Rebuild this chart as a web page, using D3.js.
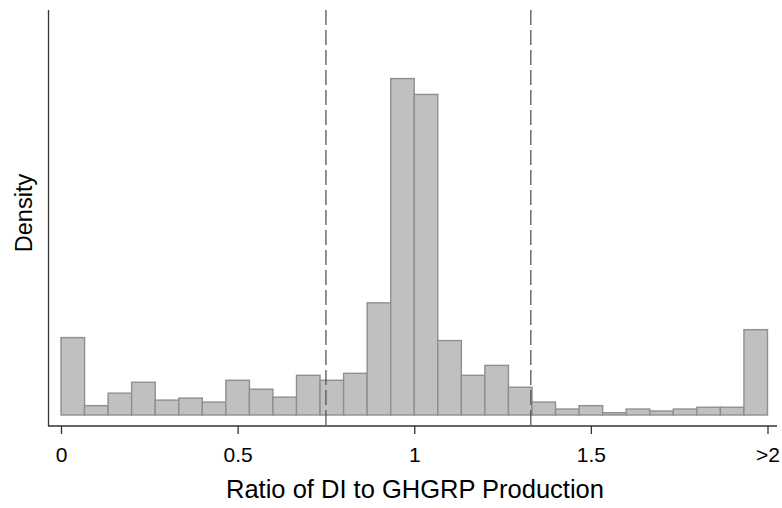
<!DOCTYPE html>
<html>
<head>
<meta charset="utf-8">
<script src="https://cdn.jsdelivr.net/npm/d3@7"></script>
<style>
  body { margin: 0; background: #fff; }
  svg { display: block; font-family: "Liberation Sans", Arial, sans-serif; }
</style>
</head>
<body>
<svg id="chart" width="782" height="508"></svg>
<script>
// histogram bins: 30 bins of width 1/15 from 0 to 2 (last bin = >2)
const binStarts = d3.range(30).map(i => i / 15);
const density = [
  0.78, 0.094, 0.22, 0.33, 0.15, 0.17, 0.13, 0.35, 0.26, 0.18,
  0.40, 0.35, 0.42, 1.13, 3.39, 3.23, 0.75, 0.40, 0.50, 0.28,
  0.13, 0.06, 0.094, 0.023, 0.06, 0.04, 0.06, 0.078, 0.078, 0.86
];
const tickValues = [0, 0.5, 1, 1.5, 2];
const tickLabels = ["0", "0.5", "1", "1.5", ">2"];
const refLines = [0.75, 1.33];

const width = 782, height = 508;
const svg = d3.select("#chart");

const x = d3.scaleLinear().domain([0, 2]).range([61, 767.5]);
const y = d3.scaleLinear().domain([0, 4.081]).range([415, 10]);
const binW = 1 / 15;

// bars
svg.append("g")
  .selectAll("rect")
  .data(binStarts)
  .join("rect")
  .attr("x", d => x(d))
  .attr("y", (d, i) => y(density[i]))
  .attr("width", d => x(d + binW) - x(d))
  .attr("height", (d, i) => y(0) - y(density[i]))
  .attr("fill", "#c0c0c0")
  .attr("stroke", "#8f8f8f")
  .attr("stroke-width", 1.4);

// dashed reference lines
svg.append("g")
  .selectAll("line")
  .data(refLines)
  .join("line")
  .attr("x1", d => x(d)).attr("x2", d => x(d))
  .attr("y1", 10).attr("y2", 426)
  .attr("stroke", "#555")
  .attr("stroke-width", 1.3)
  .attr("stroke-dasharray", "15,5");

// y axis line (no ticks)
svg.append("line")
  .attr("x1", 48.5).attr("x2", 48.5)
  .attr("y1", 10).attr("y2", 426)
  .attr("stroke", "#333").attr("stroke-width", 1.3);

// x axis
const xAxis = svg.append("g")
  .attr("transform", "translate(0,426)")
  .call(d3.axisBottom(x)
    .tickValues(tickValues)
    .tickFormat((d, i) => tickLabels[i])
    .tickSize(8)
    .tickSizeOuter(0));
xAxis.select(".domain").remove();
xAxis.append("line")
  .attr("x1", 48).attr("x2", 777)
  .attr("stroke", "#333").attr("stroke-width", 1.3);
xAxis.selectAll(".tick line").attr("stroke", "#333").attr("stroke-width", 1.3);
xAxis.selectAll(".tick text")
  .attr("y", 0).attr("dy", 0)
  .attr("transform", "translate(0,36)")
  .attr("font-size", 21)
  .attr("font-family", "Liberation Sans, Arial, sans-serif")
  .attr("fill", "#000");

// axis titles
svg.append("text")
  .attr("x", 415).attr("y", 498)
  .attr("text-anchor", "middle")
  .attr("font-size", 25.5)
  .attr("fill", "#000")
  .text("Ratio of DI to GHGRP Production");

svg.append("text")
  .attr("transform", "translate(32,213) rotate(-90)")
  .attr("text-anchor", "middle")
  .attr("font-size", 23.5)
  .attr("fill", "#000")
  .text("Density");
</script>
</body>
</html>
